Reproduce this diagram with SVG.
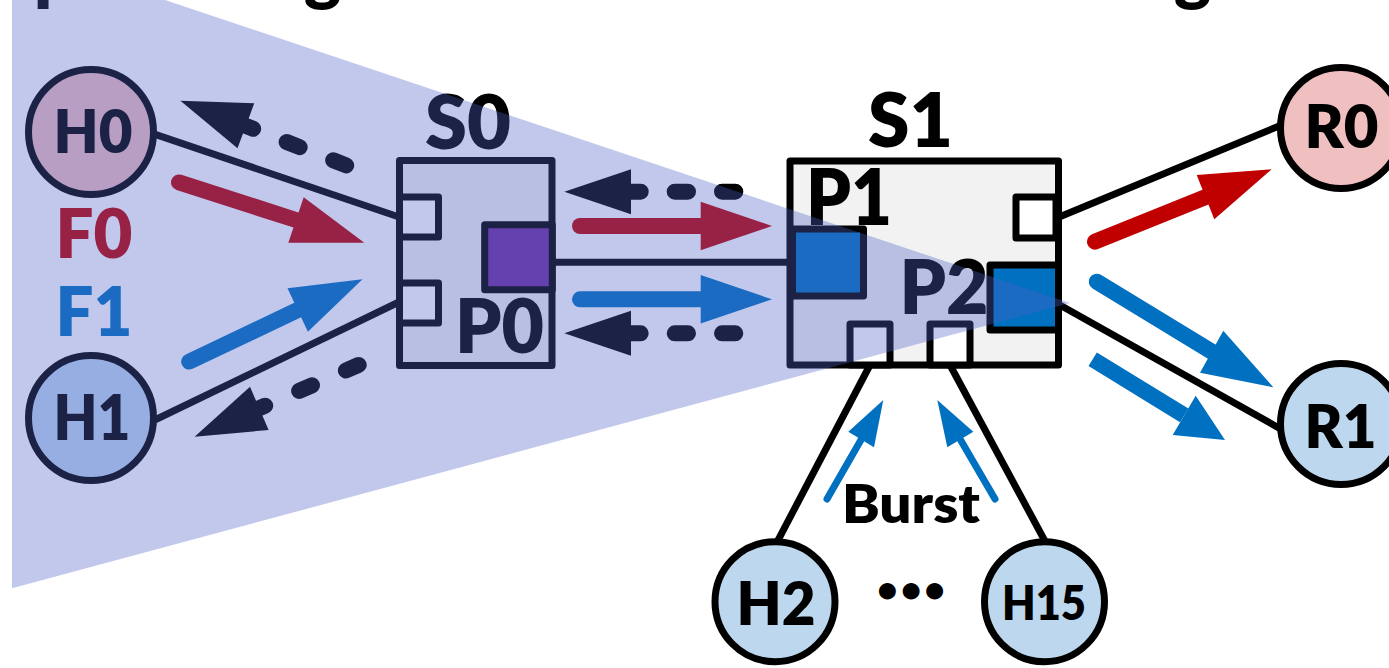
<svg xmlns="http://www.w3.org/2000/svg" width="1389" height="668" viewBox="0 0 1389 668">
<style>
.lnk{stroke:#000;stroke-width:7;fill:none;stroke-linecap:butt}
.box{stroke:#000;stroke-width:7;stroke-linejoin:round}
.circ{stroke:#000;stroke-width:7}
.t{font-family:Lato,"Liberation Sans",sans-serif;font-weight:800;text-anchor:middle;fill:#000}
.hdr{font-family:Lato,"Liberation Sans",sans-serif;font-weight:800;font-size:70px;fill:#000}
.dash{stroke:#000;stroke-width:16;fill:none;stroke-linecap:round}
.ar{stroke-width:16;fill:none;stroke-linecap:round}
.thin{stroke-width:7;fill:none;stroke-linecap:round}
.r{stroke:#C00000}.rf{fill:#C00000}
.b{stroke:#0070C0}.bf{fill:#0070C0}
.pink{fill:#F0BFBF}.lb{fill:#BDD7EE}
</style>
<rect x="0" y="0" width="1389" height="668" fill="#fff"/>
<g id="header">
<text class="hdr" x="34" y="-3">p</text>
<text class="hdr" x="304" y="-3">g</text>
<text class="hdr" x="1174" y="-3">g</text>
</g>
<g id="connectors">
<line class="lnk" x1="128.6" y1="125.4" x2="399" y2="217"/>
<line class="lnk" x1="132" y1="431" x2="399" y2="302"/>
<line class="lnk" x1="552" y1="262.3" x2="792" y2="262.3"/>
<line class="lnk" x1="1058" y1="217.5" x2="1290" y2="121.5"/>
<line class="lnk" x1="1058" y1="304" x2="1290" y2="434.2"/>
<line class="lnk" x1="870" y1="365" x2="765" y2="565"/>
<line class="lnk" x1="950" y1="365" x2="1053" y2="556"/>
<line class="ar r" x1="179" y1="182.4" x2="296" y2="220"/>
<polygon class="rf" points="303.7,197.3 364.3,242.7 288.3,242.7"/>
<line class="ar b" x1="189.2" y1="361.6" x2="297.7" y2="310"/>
<polygon class="bf" points="287.5,288.3 362.5,279.3 307.9,331.7"/>
<path class="dash" d="M346.2,165.4 L243.2,124.9" stroke-dasharray="14 36"/>
<polygon points="180.4,100.7 254.3,103.3 237.5,148.3" fill="#000"/>
<path class="dash" d="M358.7,364.9 L256.5,409.5" stroke-dasharray="14 37"/>
<polygon points="194.6,436.7 250,386.7 268.6,430" fill="#000"/>
<path class="dash" d="M735.3,191.7 H627" stroke-dasharray="13.3 34"/>
<polygon points="631,169.2 564.3,191.7 631,214.2" fill="#000"/>
<line class="ar r" x1="580" y1="226" x2="702" y2="226"/>
<polygon class="rf" points="700.7,201.7 772,226 700.7,250.3"/>
<line class="ar b" x1="580" y1="299.3" x2="702" y2="299.3"/>
<polygon class="bf" points="700.7,275 772,299.3 700.7,323.6"/>
<path class="dash" d="M735.3,333.3 H627" stroke-dasharray="13.3 34"/>
<polygon points="631,310.8 564.3,333.3 631,355.8" fill="#000"/>
<line class="ar r" x1="1095" y1="241.7" x2="1205.5" y2="197.2"/>
<polygon class="rf" points="1196.7,175 1271.7,169.3 1214.3,219.3"/>
<line class="ar b" x1="1096.7" y1="281.7" x2="1211.7" y2="351.7"/>
<polygon class="bf" points="1223.3,330.7 1273.3,387.3 1200,372.7"/>
<line class="ar b" x1="1092.7" y1="359.3" x2="1184.2" y2="415.4" style="stroke-linecap:butt"/>
<polygon class="bf" points="1195.7,395.7 1225,440 1172.7,435"/>
<line class="thin b" x1="827" y1="499" x2="861.2" y2="439.5"/>
<polygon class="bf" points="848.3,431.7 883.3,400 874,447.3"/>
<line class="thin b" x1="995" y1="499" x2="960.3" y2="439.5"/>
<polygon class="bf" points="947.3,447.3 937.3,400 973.3,431.7"/>
</g>
<g id="H0">
<circle class="circ pink" cx="91" cy="132" r="62.5"/>
<text class="t" x="93" y="153" font-size="61" textLength="79" lengthAdjust="spacingAndGlyphs">H0</text>
</g>
<g id="H1">
<circle class="circ lb" cx="91" cy="418" r="62.5"/>
<text class="t" x="92" y="440" font-size="62" textLength="77" lengthAdjust="spacingAndGlyphs">H1</text>
</g>
<g id="flows">
<text class="t rf" x="94" y="258" font-size="68" textLength="77" lengthAdjust="spacingAndGlyphs">F0</text>
<text class="t bf" x="94" y="336" font-size="68" textLength="77" lengthAdjust="spacingAndGlyphs">F1</text>
</g>
<g id="S0">
<rect class="box" x="399.5" y="160.5" width="152.5" height="205" fill="#F2F2F2"/>
<rect class="box" x="399.5" y="197" width="39" height="40" fill="#fff"/>
<rect class="box" x="399.5" y="283" width="39" height="40" fill="#fff"/>
<rect class="box" x="484.7" y="224.7" width="67.6" height="65" fill="#7030A0"/>
<text class="t" x="468" y="149" font-size="76" textLength="86" lengthAdjust="spacingAndGlyphs">S0</text>
<text class="t" x="499.5" y="353" font-size="75" textLength="89" lengthAdjust="spacingAndGlyphs">P0</text>
</g>
<g id="S1">
<rect class="box" x="790" y="161" width="268.5" height="204" fill="#F2F2F2"/>
<rect class="box" x="792.5" y="229" width="71" height="67" fill="#0070C0"/>
<rect class="box" x="1016" y="197" width="40" height="41" fill="#fff"/>
<rect class="box" x="990" y="265" width="68.5" height="65" fill="#0070C0"/>
<rect class="box" x="850" y="324" width="40" height="41" fill="#fff"/>
<rect class="box" x="930" y="324" width="40" height="41" fill="#fff"/>
<text class="t" x="910.5" y="147" font-size="75" textLength="85" lengthAdjust="spacingAndGlyphs">S1</text>
<text class="t" x="849" y="225" font-size="77" textLength="86" lengthAdjust="spacingAndGlyphs">P1</text>
<text class="t" x="944" y="314" font-size="76" textLength="89" lengthAdjust="spacingAndGlyphs">P2</text>
</g>
<g id="R0">
<circle class="circ pink" cx="1341" cy="128" r="60.5"/>
<text class="t" x="1341.5" y="148" font-size="61" textLength="74" lengthAdjust="spacingAndGlyphs">R0</text>
</g>
<g id="R1">
<circle class="circ lb" cx="1341" cy="424" r="60.5"/>
<text class="t" x="1340.5" y="448" font-size="61" textLength="72" lengthAdjust="spacingAndGlyphs">R1</text>
</g>
<g id="H2">
<circle class="circ lb" cx="775" cy="601.7" r="60"/>
<text class="t" x="776" y="625" font-size="61" textLength="79" lengthAdjust="spacingAndGlyphs">H2</text>
</g>
<g id="H15">
<circle class="circ lb" cx="1044.5" cy="601.7" r="60"/>
<text class="t" x="1044" y="620" font-size="47" textLength="84" lengthAdjust="spacingAndGlyphs">H15</text>
</g>
<g id="labels">
<text class="t" x="911" y="523" font-size="53" textLength="138" lengthAdjust="spacingAndGlyphs">Burst</text>
<text class="t" x="913" y="601" font-size="34" letter-spacing="4">•••</text>
</g>
<polygon id="overlay" points="12,0 165,0 1070,303 12,588.3" fill="#4D61C8" fill-opacity="0.35"/>
</svg>
